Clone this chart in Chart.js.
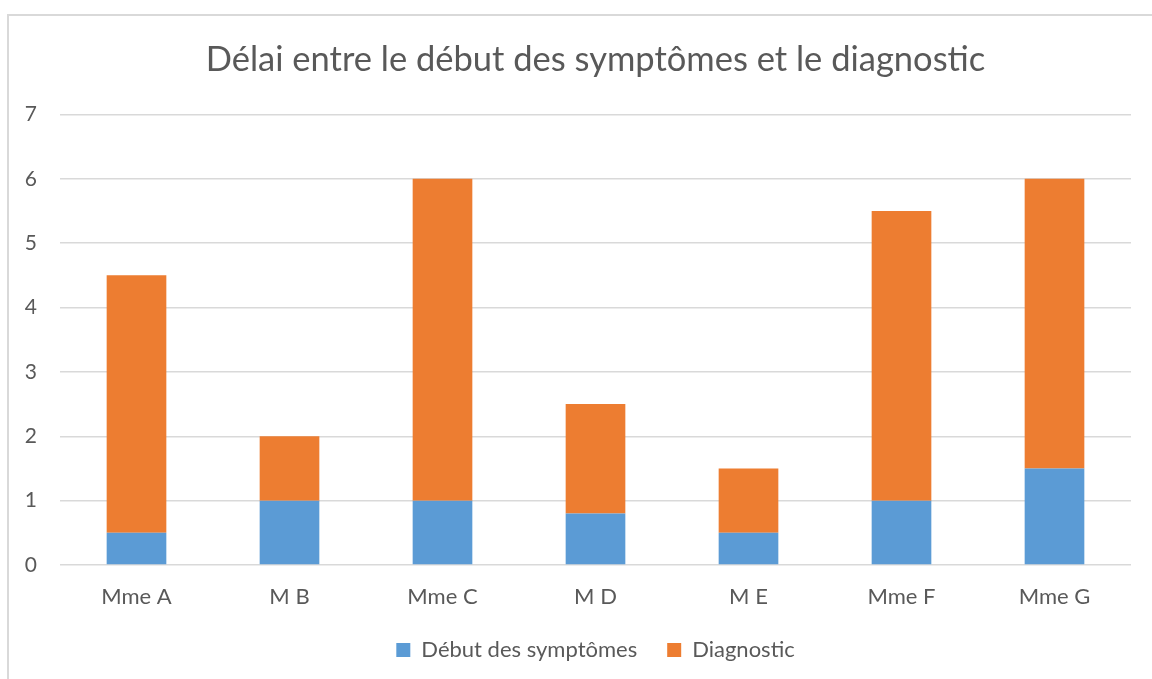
<!DOCTYPE html>
<html>
<head>
<meta charset="utf-8">
<script src="https://cdn.jsdelivr.net/npm/chart.js@4"></script>
<style>
  body { margin: 0; background: #fff; overflow: hidden; }
  #frame { position: absolute; left: 7px; top: 14px; width: 1160px; height: 700px;
           border: 2px solid #d9d9d9; box-sizing: border-box; pointer-events: none; }
  #wrap { position: absolute; left: 0; top: 0; width: 1152px; height: 679px; }
</style>
</head>
<body>
<div id="wrap"><canvas id="chart"></canvas></div>
<div id="frame"></div>
<script>
const patients = ["Mme A", "M B", "Mme C", "M D", "M E", "Mme F", "Mme G"];
const debutSymptomes = [0.5, 1, 1, 0.8, 0.5, 1, 1.5];
const diagnostic = [4, 1, 5, 1.7, 1, 4.5, 4.5];
const yTicks = [0, 1, 2, 3, 4, 5, 6, 7];

const font = "Lato, 'Liberation Sans', sans-serif";
const grey = "#595959";

new Chart(document.getElementById("chart"), {
  type: "bar",
  data: {
    labels: patients,
    datasets: [
      {
        label: "Début des symptômes",
        data: debutSymptomes,
        backgroundColor: "#5b9bd5",
        categoryPercentage: 1,
        barPercentage: 0.39,
      },
      {
        label: "Diagnostic",
        data: diagnostic,
        backgroundColor: "#ed7d31",
        categoryPercentage: 1,
        barPercentage: 0.39,
      },
    ],
  },
  options: {
    responsive: true,
    maintainAspectRatio: false,
    animation: false,
    layout: { padding: { top: 0, right: 21, bottom: 8, left: 0 } },
    plugins: {
      title: {
        display: true,
        fullSize: false,
        text: "Délai entre le début des symptômes et le diagnostic",
        color: grey,
        font: { family: font, size: 34.5, weight: "normal" },
        padding: { top: 39, bottom: 34 },
      },
      legend: {
        position: "bottom",
        fullSize: false,
        labels: {
          color: grey,
          font: { family: font, size: 22 },
          boxWidth: 14,
          boxHeight: 14,
          padding: 30,
        },
      },
      tooltip: { enabled: false },
    },
    scales: {
      x: {
        stacked: true,
        grid: { display: false },
        border: { display: false },
        afterFit: (axis) => { axis.height = 44; },
        ticks: { color: grey, font: { family: font, size: 22 }, padding: 11 },
      },
      y: {
        stacked: true,
        min: 0,
        max: 7,
        afterBuildTicks: (axis) => { axis.ticks = yTicks.map((v) => ({ value: v })); },
        afterFit: (axis) => { axis.width = 60; },
        grid: { color: "#d9d9d9", lineWidth: 1.5, drawTicks: false },
        border: { display: false },
        ticks: { color: grey, font: { family: font, size: 21 }, padding: 23 },
      },
    },
  },
});
</script>
</body>
</html>
